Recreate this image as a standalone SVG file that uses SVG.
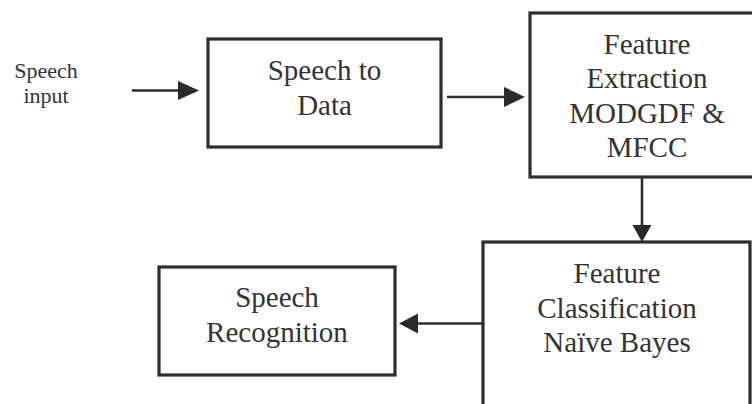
<svg xmlns="http://www.w3.org/2000/svg" width="752" height="404" viewBox="0 0 752 404">
  <style>
    .box { fill: #ffffff; stroke: #2e2e2e; stroke-width: 3.2; }
    .lbl { font-family: "Liberation Serif", "Times New Roman", serif; fill: #333333; text-anchor: middle; }
    .big { font-size: 29px; }
    .small { font-size: 22px; }
    .wire { stroke: #2e2e2e; stroke-width: 2.6; fill: none; }
    .head { fill: #2a2a2a; }
  </style>
  <rect width="752" height="404" fill="#ffffff"/>

  <g id="input-label">
    <text class="lbl small" x="46" y="78">Speech</text>
    <text class="lbl small" x="46" y="103">input</text>
  </g>

  <g id="speech-to-data">
    <rect class="box" x="208" y="39" width="233" height="108"/>
    <text class="lbl big" x="324.5" y="80">Speech to</text>
    <text class="lbl big" x="324.5" y="115">Data</text>
  </g>

  <g id="feature-extraction">
    <rect class="box" x="530" y="13" width="240" height="164"/>
    <text class="lbl big" x="647" y="54">Feature</text>
    <text class="lbl big" x="647" y="88">Extraction</text>
    <text class="lbl big" x="647" y="123">MODGDF &amp;</text>
    <text class="lbl big" x="647" y="157">MFCC</text>
  </g>

  <g id="feature-classification">
    <rect class="box" x="483" y="242" width="267" height="180"/>
    <text class="lbl big" x="617" y="283">Feature</text>
    <text class="lbl big" x="617" y="318">Classification</text>
    <text class="lbl big" x="617" y="352">Naïve Bayes</text>
  </g>

  <g id="speech-recognition">
    <rect class="box" x="159" y="267" width="236" height="108"/>
    <text class="lbl big" x="277" y="307">Speech</text>
    <text class="lbl big" x="277" y="342">Recognition</text>
  </g>

  <g id="connectors">
    <line class="wire" x1="132" y1="90.5" x2="180" y2="90.5"/>
    <polygon class="head" points="178,81 199,90.5 178,100"/>

    <line class="wire" x1="447" y1="97" x2="506" y2="97"/>
    <polygon class="head" points="504,87 525,97 504,107"/>

    <line class="wire" x1="642" y1="177" x2="642" y2="227"/>
    <polygon class="head" points="632.5,225 651.5,225 642,242"/>

    <line class="wire" x1="483" y1="323.5" x2="416" y2="323.5"/>
    <polygon class="head" points="418,313.5 418,333.5 399,323.5"/>
  </g>
</svg>
